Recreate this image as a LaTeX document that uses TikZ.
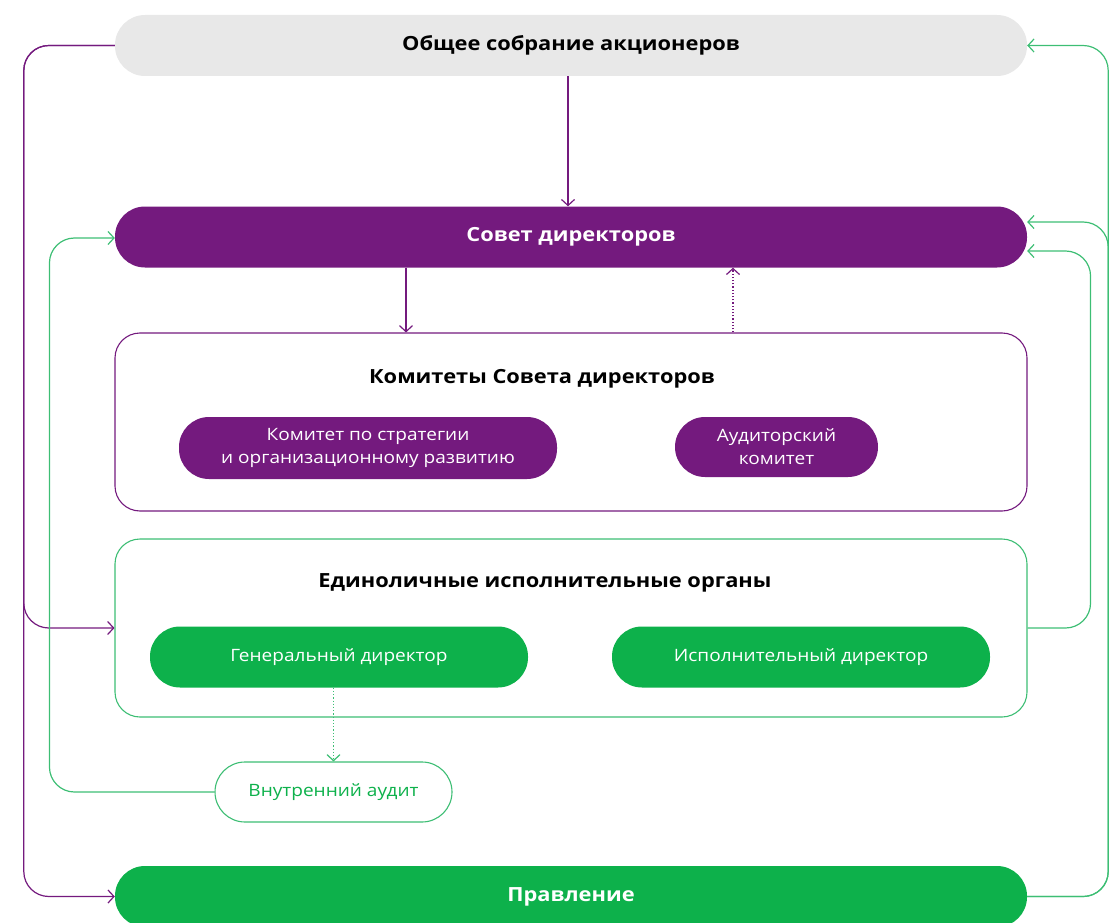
\documentclass[tikz,border=0pt]{standalone}
\usepackage{fontspec}
\setmainfont{Open Sans}[FakeStretch=1.12]
\usetikzlibrary{arrows.meta}
\definecolor{vio}{HTML}{741A7E}
\definecolor{grn}{HTML}{0DB14B}
\definecolor{lgrn}{HTML}{3DBE74}
\definecolor{lgray}{HTML}{E8E8E8}
\tikzset{
  pill/.style={rectangle, rounded corners=30pt, minimum height=61pt, inner sep=0pt, align=center},
  bigbox/.style={rectangle, rounded corners=25pt, minimum width=912pt, minimum height=178pt, fill=white, line width=1.1pt},
  ttl/.style={font=\fontsize{19.5}{23}\selectfont\bfseries},
  lbl/.style={font=\fontsize{17}{23}\selectfont, text=white},
  tip/.style={-{Straight Barb[length=6pt,width=13pt]}},
  pconn/.style={draw=vio, line width=1.2pt, tip},
  gconn/.style={draw=lgrn, line width=1.2pt, tip},
}
\begin{document}
\begin{tikzpicture}[x=1pt,y=-1pt]
\useasboundingbox (0,0) rectangle (1111,923);
% main boxes
\node[pill, fill=lgray, minimum width=912pt, ttl] (gm) at (571,45.5) {Общее собрание акционеров};
\node[pill, fill=vio, minimum width=912pt, ttl, text=white] (sd) at (571,237) {Совет директоров};
\node[bigbox, draw=vio] (kom) at (571,422) {};
\node[ttl, anchor=base] (komt) at (542,383) {Комитеты Совета директоров};
\node[pill, fill=vio, minimum width=378pt, minimum height=62pt, lbl] (kstrat) at (368,448) {Комитет по стратегии\\и организационному развитию};
\node[pill, fill=vio, minimum width=203pt, minimum height=60pt, lbl] (kaud) at (776.5,447) {Аудиторский\\комитет};
\node[bigbox, draw=lgrn] (eio) at (571,628) {};
\node[ttl, anchor=base] (eiot) at (545,587) {Единоличные исполнительные органы};
\node[pill, fill=grn, minimum width=378pt, lbl] (gd) at (339,657) {Генеральный директор};
\node[pill, fill=grn, minimum width=378pt, lbl] (id) at (801,657) {Исполнительный директор};
\node[pill, draw=lgrn, fill=white, line width=1.1pt, minimum width=237pt, minimum height=60pt, lbl, text=grn] (va) at (333.5,792) {Внутренний аудит};
\node[pill, fill=grn, minimum width=912pt, ttl, text=white] (pr) at (571,896.5) {Правление};
% vertical connectors
\draw[pconn] ([xshift=-3pt]gm.south) -- ([xshift=-3pt]sd.north);
\draw[pconn] ([xshift=-165pt]sd.south) -- ([xshift=-165pt]kom.north);
\draw[pconn, dotted] ([xshift=162pt]kom.north) -- ([xshift=162pt]sd.south);
\draw[gconn, dotted] (gd.south -| va.north) -- (va.north);
% left purple
\draw[pconn, rounded corners=25pt] (gm.west) -- ++(-91,0) |- (eio.west);
\draw[pconn, rounded corners=25pt] (gm.west) -- ++(-91,0) |- (pr.west);
% left green
\draw[gconn, rounded corners=25pt] (va.west) -- ++(-165,0) |- ([yshift=-1pt]sd.west);
% right green
\draw[gconn, rounded corners=25pt] (pr.east) -- ++(81,0) |- (gm.east);
\draw[gconn, rounded corners=25pt] (pr.east) -- ++(81,0) |- ([yshift=15pt]sd.east);
\draw[gconn, rounded corners=25pt] (eio.east) -- ++(63,0) |- ([yshift=-14pt]sd.east);
\end{tikzpicture}
\end{document}
